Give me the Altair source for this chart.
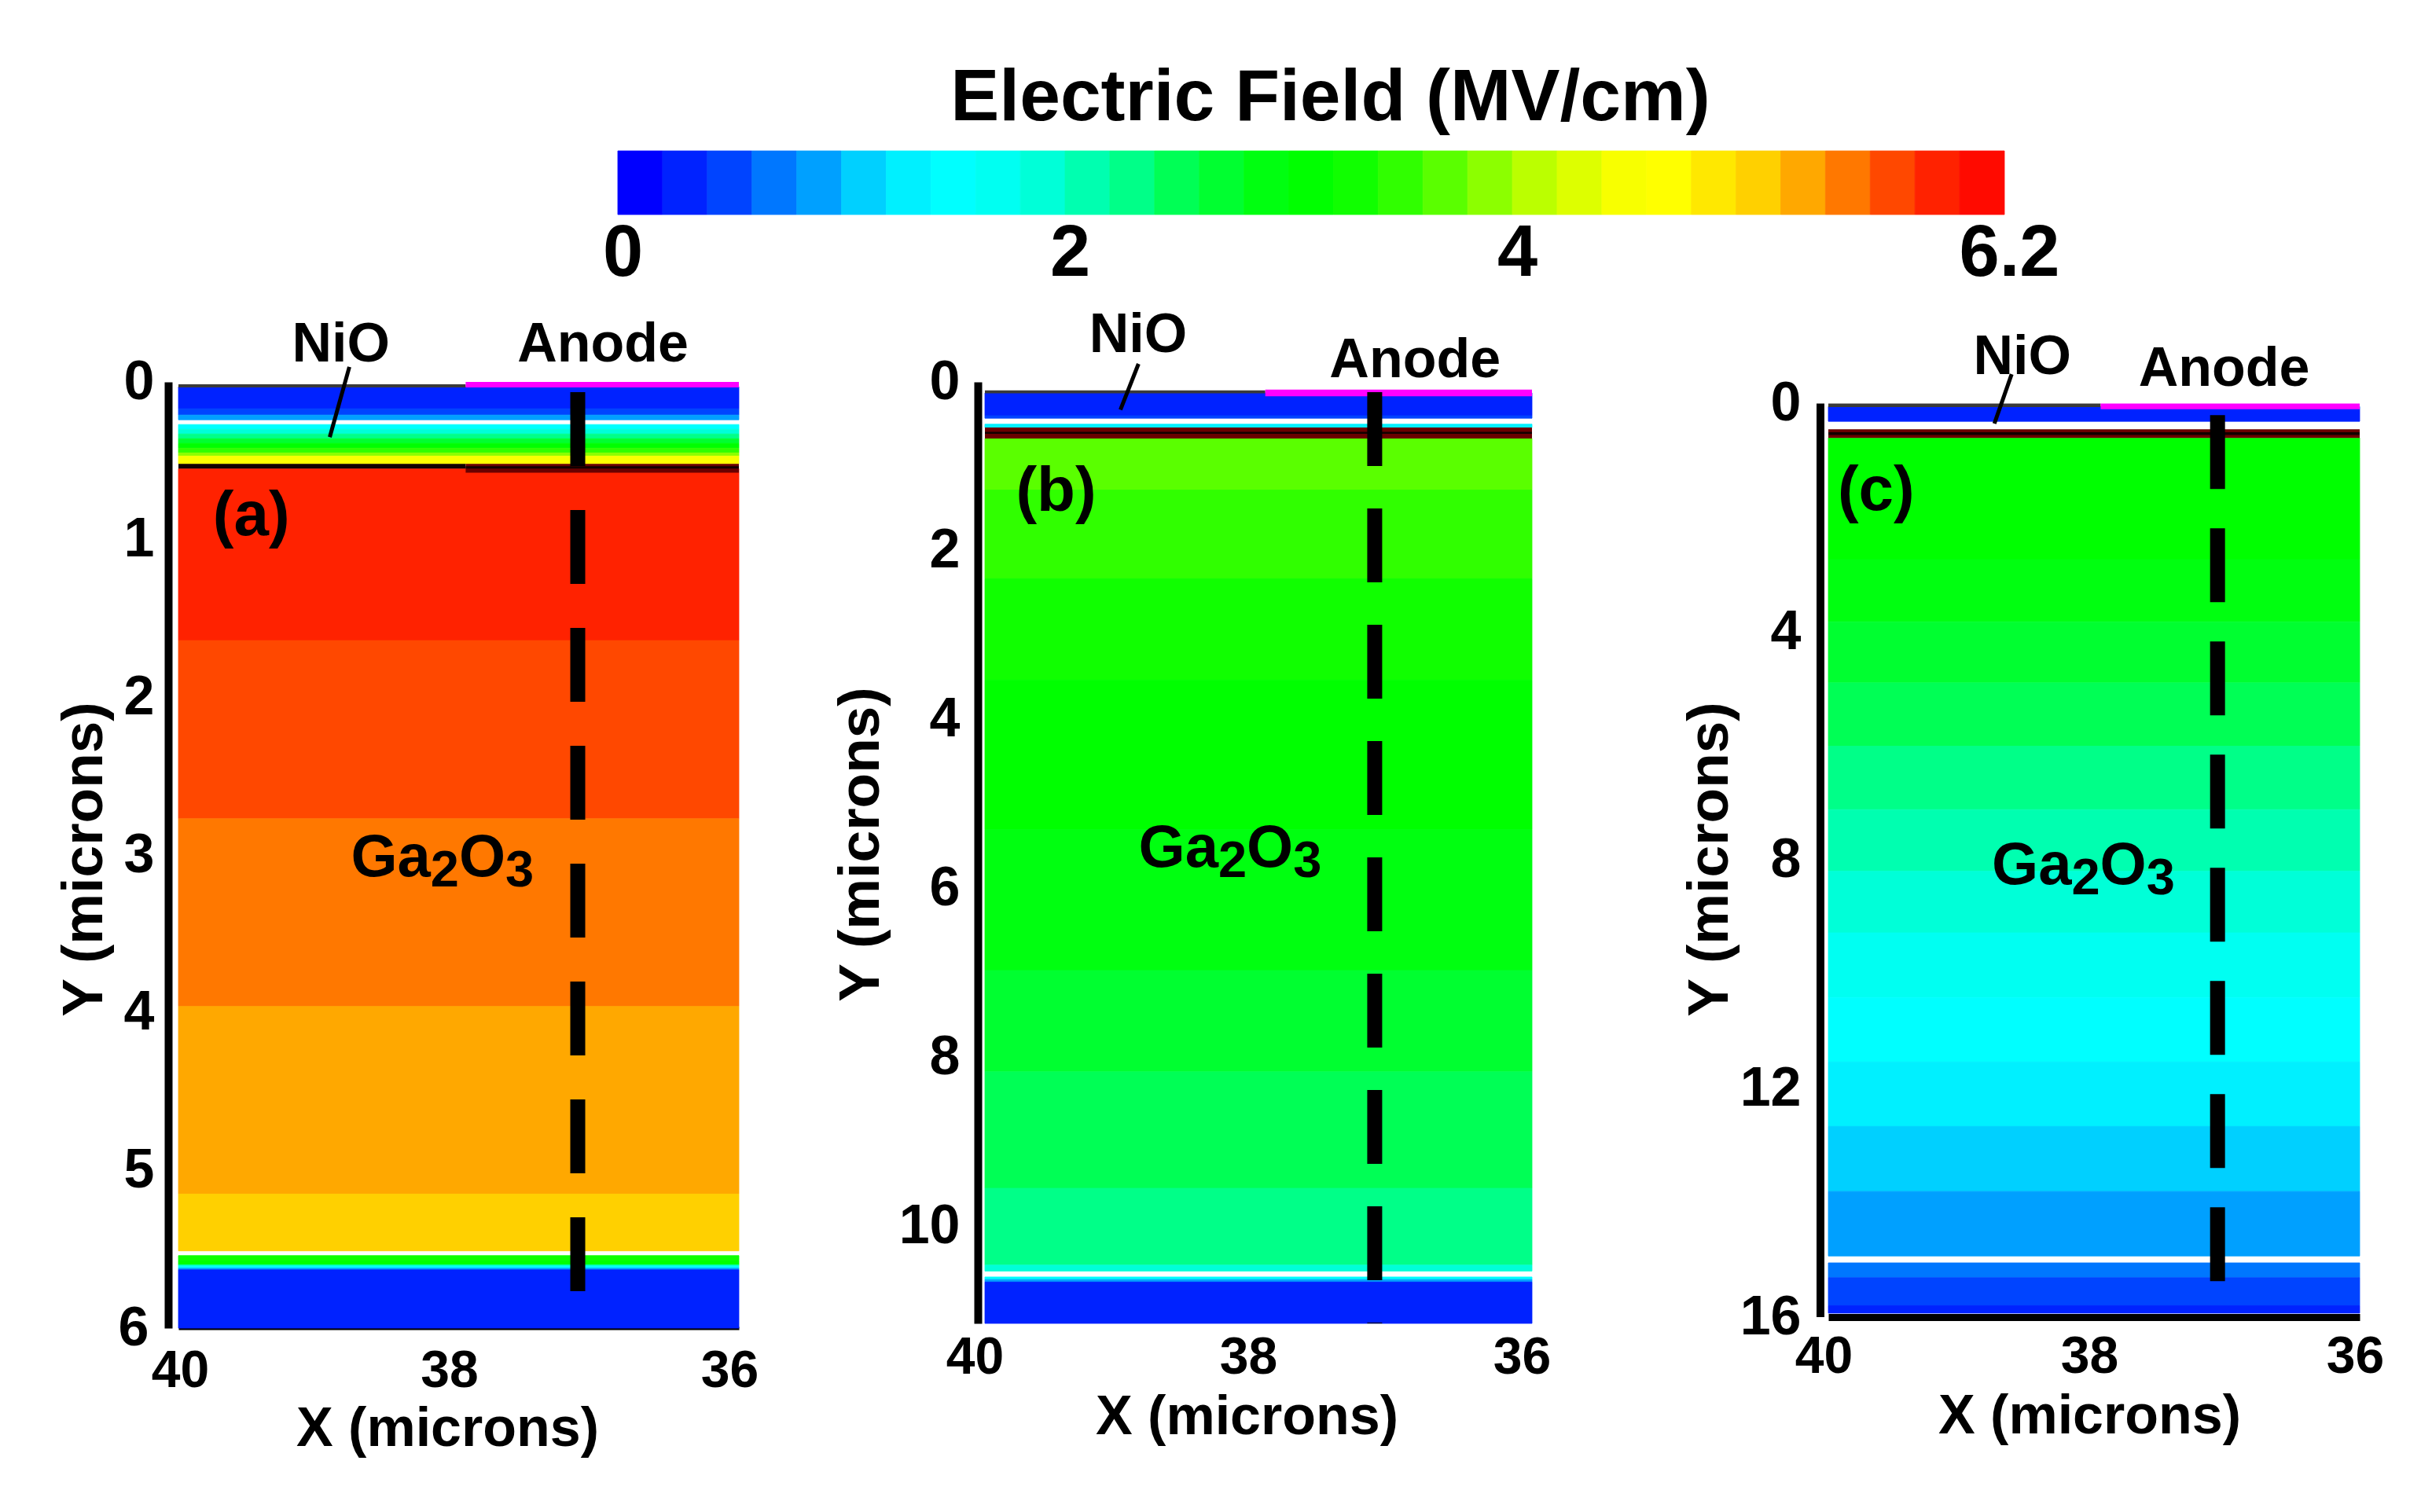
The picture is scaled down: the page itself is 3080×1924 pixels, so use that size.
import altair as alt
import pandas as pd

FONT = "Liberation Sans"

# ---------------- colour bar (MV/cm) ----------------
CB_EDGES = [0.0, 0.2, 0.4, 0.6, 0.8, 1.0, 1.2, 1.4, 1.6, 1.8, 2.0, 2.2, 2.4, 2.6, 2.8, 3.0,
            3.2, 3.4, 3.6, 3.8, 4.0, 4.2, 4.4, 4.6, 4.8, 5.0, 5.2, 5.4, 5.6, 5.8, 6.0, 6.2]
CB_COLORS = ["#0000FF", "#0022FF", "#0044FF", "#0077FF", "#00A0FF", "#00D0FF", "#00F0FF",
             "#00FFFF", "#00FFF2", "#00FFD8", "#00FFB0", "#00FF88", "#00FF55", "#00FF30",
             "#00FF10", "#00FF00", "#10FF00", "#30FF00", "#5AFF00", "#8CFF00", "#BBFF00",
             "#DDFF00", "#F8FF00", "#FFFF00", "#FFE800", "#FFD000", "#FFA800", "#FF7800",
             "#FF4800", "#FF2200", "#FF0A00"]
CB_TICKS = [0, 2, 4, 6.2]

X_TICKS = [40, 38, 36]
X_LEFT, X_RIGHT = 40, 36

# ---------------- panel (a) ----------------
A_Y0 = [0.03, 0.17, 0.21, 0.27, 0.30, 0.33, 0.36, 0.39, 0.42, 0.45, 0.47, 0.50,
        0.55, 1.64, 2.77, 3.96, 5.15, 5.54, 5.57, 5.60, 5.61, 5.62, 5.63]
A_Y1 = [0.17, 0.21, 0.24, 0.30, 0.33, 0.36, 0.39, 0.42, 0.45, 0.47, 0.50, 0.52,
        1.64, 2.77, 3.96, 5.15, 5.51, 5.57, 5.60, 5.61, 5.62, 5.63, 6.00]
A_E = [0.3, 0.5, 0.9, 1.5, 1.9, 2.3, 2.7, 3.1, 3.5, 3.9, 4.5, 4.7,
       5.9, 5.7, 5.5, 5.3, 5.1, 3.3, 3.1, 1.9, 1.5, 0.9, 0.3]
A_SP_KIND = ["nio_top", "anode", "junction_core", "junction", "junction_core"]
A_SP_X0 = [40, 37.95, 40, 37.95, 37.95]
A_SP_X1 = [37.95, 36, 37.95, 36, 36]
A_SP_Y0 = [0.015, 0.0, 0.52, 0.52, 0.535]
A_SP_Y1 = [0.035, 0.035, 0.55, 0.575, 0.55]
A_Y_TICKS = [0, 1, 2, 3, 4, 5, 6]

# ---------------- panel (b) ----------------
B_Y0 = [0.13, 0.40, 0.50, 0.67, 1.28, 2.33, 3.53, 5.30, 6.97, 8.17, 9.55, 10.46, 10.60, 10.63, 10.66]
B_Y1 = [0.40, 0.43, 0.54, 1.28, 2.33, 3.53, 5.30, 6.97, 8.17, 9.55, 10.46, 10.53, 10.63, 10.66, 11.15]
B_E = [0.3, 0.5, 1.3, 3.7, 3.5, 3.3, 3.1, 2.9, 2.7, 2.5, 2.3, 1.9, 1.5, 0.9, 0.3]
B_SP_KIND = ["nio_top", "anode", "junction", "junction_core"]
B_SP_X0 = [40, 37.95, 40, 40]
B_SP_X1 = [37.95, 36, 36, 36]
B_SP_Y0 = [0.10, 0.09, 0.54, 0.59]
B_SP_Y1 = [0.135, 0.17, 0.67, 0.615]
B_Y_TICKS = [0, 2, 4, 6, 8, 10]

# ---------------- panel (c) ----------------
C_Y0 = [0.05, 0.60, 2.73, 3.82, 4.89, 6.00, 7.11, 8.19, 9.27, 10.40, 11.53, 12.66, 13.80, 15.05, 15.31, 15.80]
C_Y1 = [0.31, 2.73, 3.82, 4.89, 6.00, 7.11, 8.19, 9.27, 10.40, 11.53, 12.66, 13.80, 14.93, 15.31, 15.80, 15.93]
C_E = [0.3, 3.1, 2.9, 2.7, 2.5, 2.3, 2.1, 1.9, 1.7, 1.5, 1.3, 1.1, 0.9, 0.7, 0.5, 0.3]
C_SP_KIND = ["nio_top", "anode", "junction", "junction_core"]
C_SP_X0 = [40, 37.95, 40, 40]
C_SP_X1 = [37.95, 36, 36, 36]
C_SP_Y0 = [0.0, 0.0, 0.45, 0.50]
C_SP_Y1 = [0.06, 0.10, 0.60, 0.55]
C_Y_TICKS = [0, 4, 8, 12, 16]

KIND_COLORS = {"nio_top": "#3a3a3a", "anode": "#ff00ff", "junction": "#6a0000", "junction_core": "#120000"}

# cut line (dashed), leader of the "NiO" label, annotations
DASH_X = [37.15, 37.15, 37.07]
DASH_Y0 = [0.065, 0.12, 0.20]
DASH_Y1 = [5.77, 11.15, 15.40]
LEAD_X0 = [38.78, 38.877, 38.62]
LEAD_X1 = [38.92, 39.009, 38.75]
LEAD_Y0 = [-0.095, -0.214, -0.515]
LEAD_Y1 = [0.35, 0.329, 0.35]
NIO_XY = [(38.84, -0.234), (38.88, -0.55), (38.54, -0.81)]
ANODE_XY = [(36.97, -0.234), (36.855, -0.254), (37.02, -0.594)]
TAGS = ["(a)", "(b)", "(c)"]
TAG_XY = [(39.48, 0.85), (39.48, 1.30), (39.64, 1.54)]
GA_XY = [(38.116, 3.0), (38.207, 5.49), (38.08, 8.05)]

FIELD_SCALE = alt.Scale(type="quantize", domain=[0, 6.2], range=CB_COLORS, nice=False, zero=False)


def panel(y0, y1, e, sp_kind, sp_x0, sp_x1, sp_y0, sp_y1, idx, ydom, yticks, width, height,
          y_offset, y_label_pad, y_title_x, y_title_y, y_domain,
          x_label_off, x_label_pad, x_title_x, x_title_y, x_domain_width, dash):
    xs = alt.Scale(domain=[X_RIGHT, X_LEFT], reverse=True, nice=False, zero=False)
    ys = alt.Scale(domain=ydom, reverse=True, nice=False, zero=False)

    xaxis = alt.Axis(values=X_TICKS, title="X (microns)", grid=False, ticks=False, tickSize=0,
                     domain=x_domain_width > 0, domainWidth=max(x_domain_width, 1), domainColor="black",
                     labelFontSize=66, labelPadding=x_label_pad, labelBaseline="middle",
                     labelOffset=x_label_off, labelFlush=False,
                     titleFontSize=70, titleX=x_title_x, titleY=x_title_y,
                     titleBaseline="middle", titleAlign="center")
    yaxis = alt.Axis(values=yticks, title="Y (microns)", grid=False, ticks=False, tickSize=0,
                     domain=y_domain, domainWidth=10, domainColor="black", offset=y_offset,
                     labelFontSize=70, labelPadding=y_label_pad, labelBaseline="middle",
                     labelFlush=False,
                     titleFontSize=73, titleAngle=270, titleX=y_title_x, titleY=y_title_y,
                     titleBaseline="middle", titleAlign="center")

    def X(f):
        return alt.X(f, scale=xs, axis=xaxis)

    def Y(f):
        return alt.Y(f, scale=ys, axis=yaxis)

    bands = pd.DataFrame({"xa": [X_LEFT] * len(e), "xb": [X_RIGHT] * len(e),
                          "ya": y0, "yb": y1, "E": e})
    field = alt.Chart(bands).mark_rect(strokeWidth=0.8).encode(
        x=X("xa:Q"), x2="xb:Q", y=Y("ya:Q"), y2="yb:Q",
        color=alt.Color("E:Q", scale=FIELD_SCALE, legend=None),
        stroke=alt.Stroke("E:Q", scale=FIELD_SCALE, legend=None),
    )

    sp = pd.DataFrame({"xa": sp_x0, "xb": sp_x1, "ya": sp_y0, "yb": sp_y1,
                       "col": [KIND_COLORS[k] for k in sp_kind]})
    specials = alt.Chart(sp).mark_rect().encode(
        x=X("xa:Q"), x2="xb:Q", y=Y("ya:Q"), y2="yb:Q",
        fill=alt.Fill("col:N", scale=None),
    )

    dd = pd.DataFrame({"xa": [DASH_X[idx]], "ya": [DASH_Y0[idx]], "yb": [DASH_Y1[idx]]})
    dashed = alt.Chart(dd).mark_rule(color="black", strokeWidth=19, strokeDash=dash,
                                     strokeCap="butt", clip=False).encode(
        x=X("xa:Q"), y=Y("ya:Q"), y2="yb:Q",
    )

    ld = pd.DataFrame({"xa": [LEAD_X0[idx]], "xb": [LEAD_X1[idx]],
                       "ya": [LEAD_Y0[idx]], "yb": [LEAD_Y1[idx]]})
    leader = alt.Chart(ld).mark_rule(color="black", strokeWidth=5, clip=False).encode(
        x=X("xa:Q"), x2="xb:Q", y=Y("ya:Q"), y2="yb:Q",
    )

    def txt(label, xy, size, dx=0, dy=0, baseline="middle", align="center"):
        d = pd.DataFrame({"t": [label], "xa": [xy[0]], "ya": [xy[1]]})
        return alt.Chart(d).mark_text(font=FONT, fontWeight="bold", fontSize=size, color="black",
                                      align=align, baseline=baseline, dx=dx, dy=dy,
                                      clip=False).encode(
            x=X("xa:Q"), y=Y("ya:Q"), text="t:N",
        )

    layers = [field, specials, dashed, leader,
              txt("NiO", NIO_XY[idx], 70),
              txt("Anode", ANODE_XY[idx], 70),
              txt(TAGS[idx], TAG_XY[idx], 80)]
    # Ga2O3 with lowered subscripts (Liberation Sans Bold metrics == Arial Bold)
    ga = GA_XY[idx]
    layers += [txt("Ga", ga, 76, dx=-116.4, dy=27, baseline="alphabetic", align="left"),
               txt("2", ga, 65, dx=-15.0, dy=40, baseline="alphabetic", align="left"),
               txt("O", ga, 76, dx=21.1, dy=27, baseline="alphabetic", align="left"),
               txt("3", ga, 65, dx=80.2, dy=40, baseline="alphabetic", align="left")]

    if not y_domain:
        ad = pd.DataFrame({"xa": [X_LEFT], "ya": [yticks[0]], "yb": [yticks[-1]]})
        layers.append(alt.Chart(ad).mark_rule(color="black", strokeWidth=10, xOffset=-10,
                                              clip=False).encode(
            x=X("xa:Q"), y=Y("ya:Q"), y2="yb:Q"))

    return alt.layer(*layers).properties(width=width, height=height)


# panel (a): the "6" and "40" labels sit in the same corner; nudge them apart a little
A_X_LABEL_OFF = {"condition": {"test": "datum.value == 40", "value": 2}, "value": -12}
A_Y_LABEL_PAD = {"condition": {"test": "datum.value == 6", "value": 25}, "value": 18}

pa = panel(A_Y0, A_Y1, A_E, A_SP_KIND, A_SP_X0, A_SP_X1, A_SP_Y0, A_SP_Y1, 0,
           [0, 6], A_Y_TICKS, 713, 1204,
           y_offset=13, y_label_pad=A_Y_LABEL_PAD, y_title_x=-107, y_title_y=607, y_domain=True,
           x_label_off=A_X_LABEL_OFF, x_label_pad=54, x_title_x=342, x_title_y=128, x_domain_width=4,
           dash=[94, 56])
pb = panel(B_Y0, B_Y1, B_E, B_SP_KIND, B_SP_X0, B_SP_X1, B_SP_Y0, B_SP_Y1, 1,
           [0, 11.15], B_Y_TICKS, 696, 1198,
           y_offset=9, y_label_pad=23, y_title_x=-149, y_title_y=588, y_domain=True,
           x_label_off=-13, x_label_pad=43, x_title_x=333, x_title_y=119, x_domain_width=0,
           dash=[94, 54])
pc = panel(C_Y0, C_Y1, C_E, C_SP_KIND, C_SP_X0, C_SP_X1, C_SP_Y0, C_SP_Y1, 2,
           [-0.38, 16], C_Y_TICKS, 676, 1190,
           y_offset=10, y_label_pad=25, y_title_x=-141, y_title_y=607, y_domain=False,
           x_label_off=-6, x_label_pad=50, x_title_x=332, x_title_y=126, x_domain_width=9,
           dash=[94, 50])

cb_df = pd.DataFrame({"lo": CB_EDGES[:-1], "hi": CB_EDGES[1:]})
cb_df["mid"] = (cb_df["lo"] + cb_df["hi"]) / 2
cbar = alt.Chart(cb_df).mark_rect(strokeWidth=0.8).encode(
    x=alt.X("lo:Q", scale=alt.Scale(domain=[-1.9647, 6.2], nice=False, zero=False),
            axis=alt.Axis(values=CB_TICKS, labelExpr="'' + datum.value", domain=False,
                          ticks=False, tickSize=0, grid=False, title=None, labelFontSize=92,
                          labelPadding=49, labelBaseline="middle", labelFlush=False,
                          labelOffset=6)),
    x2="hi:Q",
    color=alt.Color("mid:Q", scale=FIELD_SCALE, legend=None),
    stroke=alt.Stroke("mid:Q", scale=FIELD_SCALE, legend=None),
).properties(
    width=2323, height=81,
    title=alt.TitleParams("Electric Field (MV/cm)", font=FONT, fontSize=93, fontWeight="bold",
                          color="black", anchor="middle", dx=304, baseline="alphabetic", offset=-54),
)

chart = alt.vconcat(
    cbar,
    alt.hconcat(alt.hconcat(pa, pb, spacing=94), pc, spacing=166),
    spacing=23,
).properties(
    padding={"left": 63, "top": 70, "right": 20, "bottom": 20},
    background="white",
).configure_view(stroke=None).configure_axis(
    labelFont=FONT, labelFontWeight="bold", labelColor="black",
    titleFont=FONT, titleFontWeight="bold", titleColor="black",
)

chart.save("out.html", embed_options={"renderer": "svg", "actions": False})
